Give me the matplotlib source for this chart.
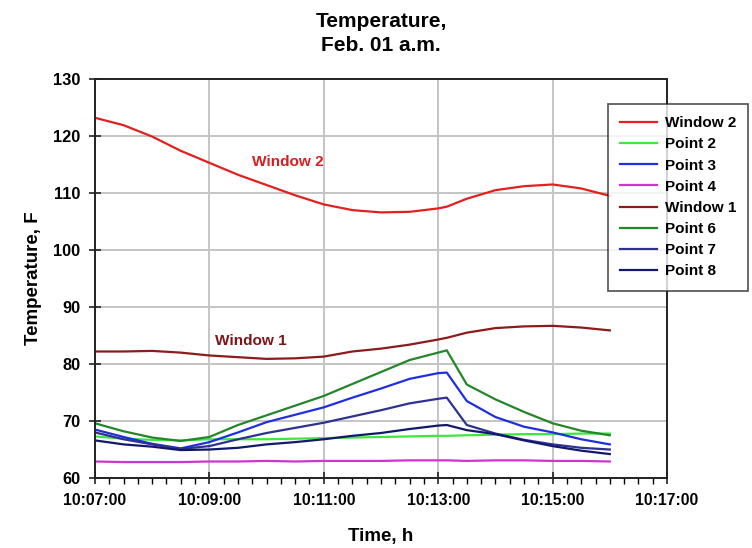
import numpy as np
import pandas as pd
import matplotlib
matplotlib.use("Agg")
import matplotlib.pyplot as plt
import matplotlib.dates as mdates

plt.rcParams['font.family'] = ['Liberation Sans', 'DejaVu Sans']
plt.rcParams['font.weight'] = 'bold'

# sample times (Feb. 01, morning)
times = ["10:07:00", "10:07:30", "10:08:00", "10:08:30", "10:09:00", "10:09:30",
         "10:10:00", "10:10:30", "10:11:00", "10:11:30", "10:12:00", "10:12:30",
         "10:13:00", "10:13:09", "10:13:30", "10:14:00", "10:14:30", "10:15:00",
         "10:15:30", "10:16:00"]

window2 = [123.2, 121.9, 119.9, 117.4, 115.3, 113.2, 111.4, 109.6, 108.0, 107.0,
           106.6, 106.7, 107.3, 107.6, 109.0, 110.5, 111.2, 111.5, 110.8, 109.5]
point2 = [67.3, 66.9, 66.7, 66.6, 66.8, 66.8, 66.8, 66.9, 67.0, 67.1,
          67.2, 67.3, 67.4, 67.4, 67.5, 67.6, 67.7, 67.7, 67.8, 67.8]
point3 = [68.5, 67.2, 66.0, 65.2, 66.3, 68.0, 69.8, 71.1, 72.4, 74.1,
          75.7, 77.4, 78.4, 78.5, 73.5, 70.7, 69.0, 68.0, 66.8, 65.9]
point4 = [62.9, 62.8, 62.8, 62.8, 62.9, 62.9, 63.0, 62.9, 63.0, 63.0,
          63.0, 63.1, 63.1, 63.1, 63.0, 63.1, 63.1, 63.0, 63.0, 62.9]
window1 = [82.2, 82.2, 82.3, 82.0, 81.5, 81.2, 80.9, 81.0, 81.3, 82.2,
           82.7, 83.4, 84.3, 84.6, 85.5, 86.3, 86.6, 86.7, 86.4, 85.9]
point6 = [69.6, 68.2, 67.1, 66.5, 67.2, 69.3, 71.0, 72.7, 74.4, 76.5,
          78.6, 80.7, 82.0, 82.4, 76.4, 73.8, 71.6, 69.6, 68.3, 67.5]
point7 = [68.0, 66.8, 65.9, 65.1, 65.6, 66.8, 67.9, 68.8, 69.7, 70.8,
          71.9, 73.1, 73.9, 74.1, 69.3, 67.8, 66.7, 65.9, 65.3, 65.0]
point8 = [66.6, 65.9, 65.5, 64.9, 65.0, 65.3, 65.9, 66.3, 66.8, 67.4,
          67.9, 68.6, 69.2, 69.3, 68.4, 67.7, 66.6, 65.6, 64.8, 64.2]

t = pd.to_datetime(["2000-02-01 " + s for s in times])

series = [("Window 2", window2, "#e3201e"),
          ("Point 2", point2, "#3ce83c"),
          ("Point 3", point3, "#1f2fe0"),
          ("Point 4", point4, "#d034d0"),
          ("Window 1", window1, "#8a1c1c"),
          ("Point 6", point6, "#23862a"),
          ("Point 7", point7, "#2e3190"),
          ("Point 8", point8, "#12186a")]

fig = plt.figure(figsize=(7.52, 5.48), dpi=100)
ax = fig.add_axes([0.1263, 0.1277, 0.7607, 0.7281])

for name, vals, col in series:
    ax.plot(t, vals, color=col, lw=1.6, label=name)

ax.set_xlim(pd.Timestamp("2000-02-01 10:07:00"), pd.Timestamp("2000-02-01 10:17:00"))
ax.set_ylim(60, 130)
ax.set_yticks(np.arange(60, 131, 10))
ax.xaxis.set_major_locator(mdates.MinuteLocator(byminute=range(7, 18, 2)))
ax.xaxis.set_minor_locator(mdates.SecondLocator(bysecond=[0, 15, 30, 45]))
ax.xaxis.set_major_formatter(mdates.DateFormatter("%H:%M:%S"))

ax.grid(True, which='major', color='#c4c4c4', lw=1.4)
ax.set_axisbelow(True)
for sp in ax.spines.values():
    sp.set_color('#222222')
    sp.set_linewidth(1.4)

ax.tick_params(axis='both', which='major', direction='inout', length=9, width=1.2,
               colors='#222222')
ax.tick_params(axis='x', which='major', pad=6, labelsize=11.3)
ax.tick_params(axis='y', which='major', pad=6, labelsize=11.8)
ax.tick_params(axis='x', which='minor', direction='out', length=4, width=1)
for lbl in ax.get_xticklabels() + ax.get_yticklabels():
    lbl.set_fontweight('bold')
    lbl.set_color('black')

ax.set_xlabel("Time, h", fontsize=13.5, fontweight='bold', labelpad=15)
ax.set_ylabel("Temperature, F", fontsize=13.5, fontweight='bold', labelpad=8)
ax.set_title("Temperature,\nFeb. 01 a.m.", fontsize=15, fontweight='bold',
             linespacing=1.36, pad=20)

ax.text(pd.Timestamp("2000-02-01 10:10:22"), 115.4, "Window 2", color="#d42020",
        fontsize=11.1, fontweight='bold', ha='center', va='center')
ax.text(pd.Timestamp("2000-02-01 10:09:43"), 84.1, "Window 1", color="#7a1818",
        fontsize=11.1, fontweight='bold', ha='center', va='center')

leg = fig.legend(loc='upper left', bbox_to_anchor=(0.8085, 0.8102), fontsize=11,
                 frameon=True, fancybox=False, edgecolor='#222222',
                 handlelength=2.4, handletextpad=0.5, labelspacing=0.47,
                 borderpad=0.8, borderaxespad=0)
leg.get_frame().set_linewidth(1.2)
for txt in leg.get_texts():
    txt.set_fontweight('bold')

fig.savefig("out.png", dpi=100)
